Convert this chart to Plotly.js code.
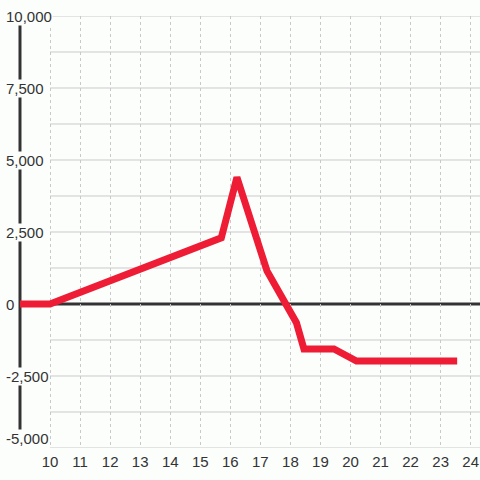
<!DOCTYPE html>
<html>
<head>
<meta charset="utf-8">
<script src="https://cdn.plot.ly/plotly-3.0.1.min.js"></script>
<style>html,body{margin:0;padding:0;background:#fcfefc;}#chart{width:480px;height:480px;}</style>
</head>
<body>
<div id="chart"></div>
<script>
// Data
const xValues = [9, 10, 15.7, 16.22, 17.22, 18.2, 18.45, 19.45, 20.2, 23.55];
const yValues = [0, 0, 2300, 4400, 1150, -650, -1560, -1560, -1980, -1980];
const xTickVals = [10, 11, 12, 13, 14, 15, 16, 17, 18, 19, 20, 21, 22, 23, 24];
const yTickVals = [-5000, -2500, 0, 2500, 5000, 7500, 10000];
const yGridVals = [-5000, -3750, -2500, -1250, 0, 1250, 2500, 3750, 5000, 6250, 7500, 8750, 10000];

const xRange = [8.834, 24.31];
const axisX = 9;
const yRange = [-5000, 10000];
const bg = '#fcfefc';
const fmt = v => v.toLocaleString('en-US');

const shapes = [];
yGridVals.forEach(v => {
  if (v === 0) return;
  shapes.push({type: 'line', xref: 'x', yref: 'y', x0: 10, x1: xRange[1], y0: v, y1: v,
    line: {color: '#c9c9c9', width: 1}, layer: 'below'});
});
// zero line
shapes.push({type: 'line', xref: 'x', yref: 'y', x0: 10, x1: xRange[1], y0: 0, y1: 0,
  line: {color: '#333333', width: 3}, layer: 'below'});
// y axis line
shapes.push({type: 'line', xref: 'x', yref: 'y', x0: axisX, x1: axisX, y0: yRange[0] + 400, y1: yRange[1],
  line: {color: '#333333', width: 3}, layer: 'below'});

const annotations = yTickVals.map(v => ({
  xref: 'paper', yref: 'y', x: -0.0215, y: v, xanchor: 'left',
  yanchor: v === yRange[0] ? 'bottom' : 'middle',
  text: fmt(v), showarrow: false, bgcolor: bg, borderpad: 0,
  font: {family: 'Liberation Sans, Arial, sans-serif', size: 15, color: '#333333'}
}));

const trace = {
  x: xValues, y: yValues, type: 'scatter', mode: 'lines',
  line: {color: '#ee1c35', width: 7, shape: 'linear'},
  hoverinfo: 'none'
};

const layout = {
  width: 480, height: 480,
  margin: {l: 15, r: 0, t: 16, b: 32, pad: 0},
  paper_bgcolor: bg, plot_bgcolor: bg,
  showlegend: false,
  xaxis: {
    range: xRange, tickvals: xTickVals, ticktext: xTickVals.map(String),
    showgrid: true, gridcolor: '#c9c9c9', gridwidth: 1, griddash: '3px,3px',
    zeroline: false, showline: false, ticks: '', ticklabelstandoff: 3,
    tickfont: {family: 'Liberation Sans, Arial, sans-serif', size: 15, color: '#333333'}
  },
  yaxis: {
    range: yRange, showgrid: false, zeroline: false, showline: false,
    showticklabels: false, ticks: ''
  },
  shapes: shapes,
  annotations: annotations
};

Plotly.newPlot('chart', [trace], layout, {displayModeBar: false, staticPlot: true});
</script>
</body>
</html>
